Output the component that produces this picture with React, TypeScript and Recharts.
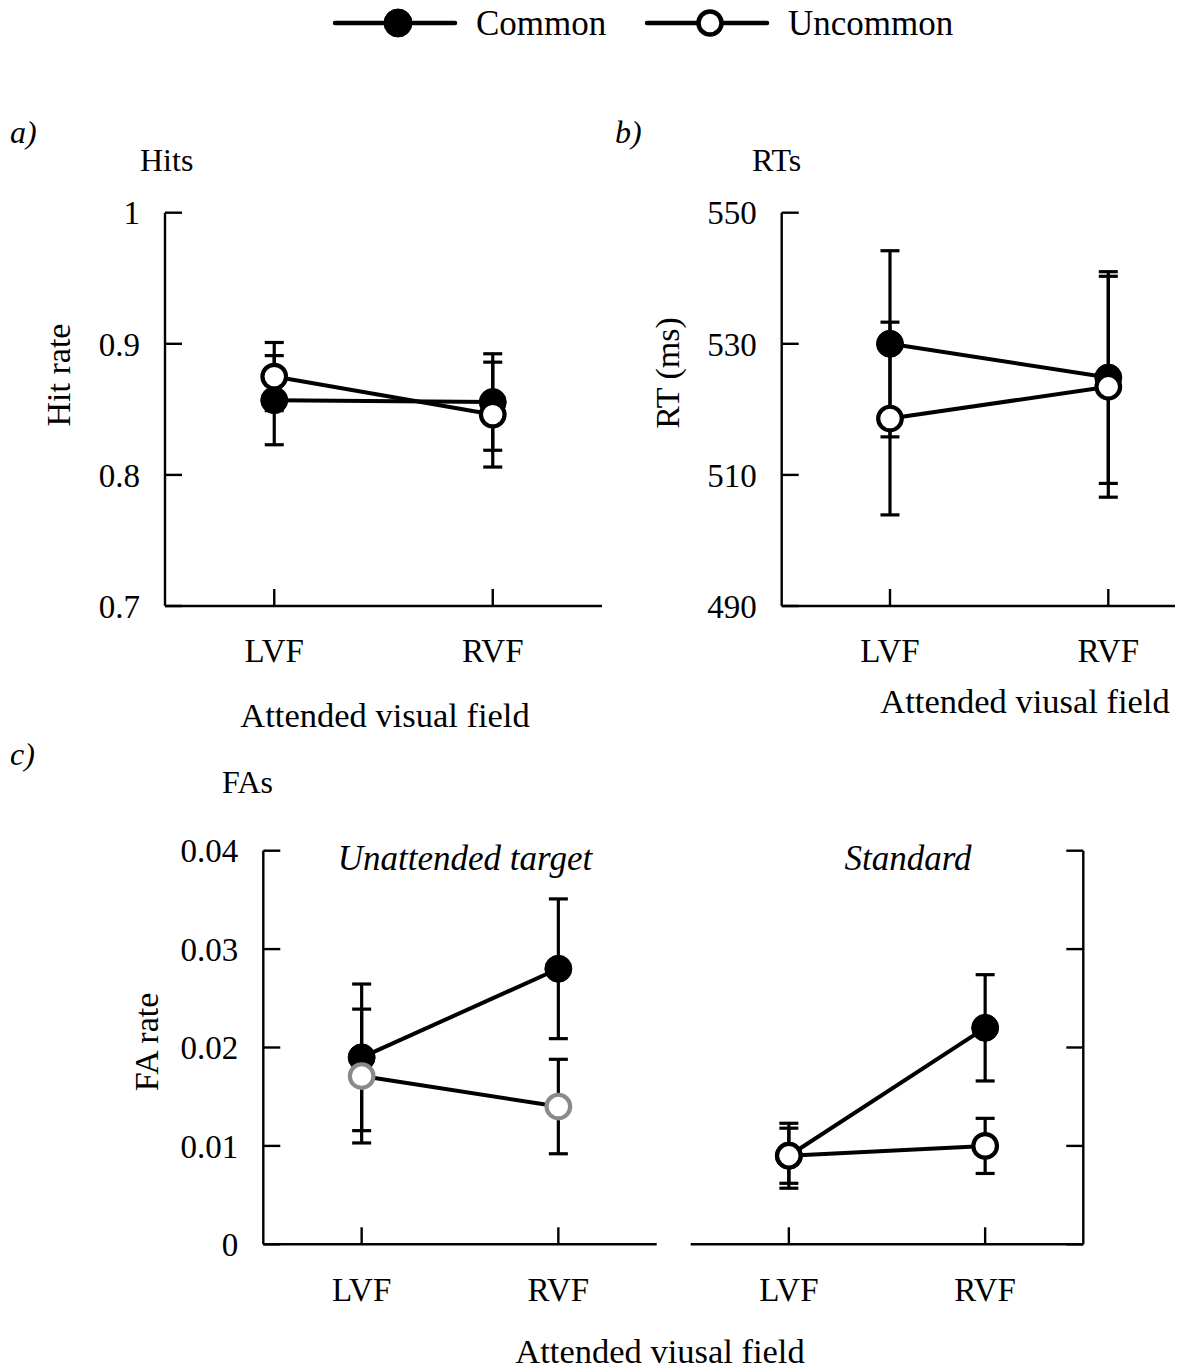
import React from 'react';
import { LineChart, Line, XAxis, YAxis, ErrorBar, Legend } from 'recharts';

// ---------- data ----------
const fields = ['LVF', 'RVF'];
const seriesNames = ['Common', 'Uncommon'];

const hitCommon = [0.857, 0.8556];
const hitCommonErr = [0.034, 0.0368];
const hitUncommon = [0.875, 0.846];
const hitUncommonErr = [0.026, 0.04];
const hitTicks = [0.7, 0.8, 0.9, 1];

const rtCommon = [530.0, 524.85];
const rtCommonErr = [14.2, 16.15];
const rtUncommon = [518.6, 523.45];
const rtUncommonErr = [14.7, 16.85];
const rtTicks = [490, 510, 530, 550];

const faTargetCommon = [0.019, 0.028];
const faTargetCommonErr = [0.00745, 0.0071];
const faTargetUncommon = [0.0171, 0.014];
const faTargetUncommonErr = [0.0068, 0.0048];

const faStdCommon = [0.009, 0.022];
const faStdCommonErr = [0.0033, 0.0054];
const faStdUncommon = [0.009, 0.01];
const faStdUncommonErr = [0.0028, 0.0028];
const faTicks = [0, 0.01, 0.02, 0.03, 0.04];

const fieldPositions = [1, 2];

const build = (c: number[], ce: number[], u: number[], ue: number[]) =>
  fields.map((f, i) => ({
    pos: fieldPositions[i],
    field: f,
    common: c[i],
    commonErr: ce[i],
    uncommon: u[i],
    uncommonErr: ue[i],
  }));

const hitData = build(hitCommon, hitCommonErr, hitUncommon, hitUncommonErr);
const rtData = build(rtCommon, rtCommonErr, rtUncommon, rtUncommonErr);
const faTargetData = build(faTargetCommon, faTargetCommonErr, faTargetUncommon, faTargetUncommonErr);
const faStdData = build(faStdCommon, faStdCommonErr, faStdUncommon, faStdUncommonErr);

// ---------- styles ----------
const FONT = '"Liberation Serif", "Times New Roman", serif';
const tickStyle = { fill: '#000', fontSize: 33, fontFamily: FONT };
const AXIS_W = 2.4;
const LINE_W = 4;
const ERR_W = 3.2;
const CAP = 9.5;

const LegendContent = (props: any) => {
  const payload = props.payload || [];
  const lineX = [335, 647];
  return (
    <svg width={1181} height={50} style={{ display: 'block' }}>
      {payload.map((it: any, i: number) => {
        const x0 = lineX[i] ?? 335 + i * 312;
        const filled = i === 0;
        return (
          <g key={i}>
            <line x1={x0} x2={x0 + 120} y1={23} y2={23} stroke="#000" strokeWidth={4.5} strokeLinecap="round" />
            <circle
              cx={x0 + 63}
              cy={23}
              r={filled ? 14 : 11.5}
              fill={filled ? '#000' : '#fff'}
              stroke="#000"
              strokeWidth={filled ? 1 : 4.5}
            />
            <text x={x0 + 141} y={35} fontSize={35} fontFamily={FONT} fill="#000">
              {it.value}
            </text>
          </g>
        );
      })}
    </svg>
  );
};

type PanelProps = {
  data: any[];
  left: number;
  top: number;
  width: number;
  height: number;
  margin: { top: number; right: number; bottom: number; left: number };
  xHeight: number;
  xDomain: [number, number];
  yDomain: [number, number];
  yTicks: number[];
  yWidth: number;
  yRight?: boolean;
  uncommonStroke?: string;
  legend?: boolean;
};

function Panel(p: PanelProps) {
  return (
    <div style={{ position: 'absolute', left: p.left, top: p.top, width: p.width, height: p.height }}>
      <LineChart width={p.width} height={p.height} data={p.data} margin={p.margin}>
        <XAxis
          dataKey="pos"
          type="number"
          domain={p.xDomain}
          ticks={fieldPositions}
          tickFormatter={(v: number) => fields[v - 1]}
          allowDataOverflow
          interval={0}
          height={p.xHeight}
          tickSize={-17}
          tickMargin={50}
          axisLine={{ stroke: '#000', strokeWidth: AXIS_W }}
          tickLine={{ stroke: '#000', strokeWidth: AXIS_W }}
          tick={tickStyle}
        />
        {p.yRight ? (
          <YAxis
            orientation="right"
            type="number"
            domain={p.yDomain}
            ticks={p.yTicks}
            allowDataOverflow
            width={p.yWidth}
            tickSize={-17}
            tickMargin={42}
            tickFormatter={() => ''}
            axisLine={{ stroke: '#000', strokeWidth: AXIS_W }}
            tickLine={{ stroke: '#000', strokeWidth: AXIS_W }}
            tick={tickStyle}
          />
        ) : (
          <YAxis
            type="number"
            domain={p.yDomain}
            ticks={p.yTicks}
            allowDataOverflow
            width={p.yWidth}
            tickSize={-17}
            tickMargin={42}
            axisLine={{ stroke: '#000', strokeWidth: AXIS_W }}
            tickLine={{ stroke: '#000', strokeWidth: AXIS_W }}
            tick={tickStyle}
          />
        )}
        <Line
          name={seriesNames[0]}
          dataKey="common"
          stroke="#000"
          strokeWidth={LINE_W}
          isAnimationActive={false}
          dot={{ r: 13.5, fill: '#000', stroke: '#000', strokeWidth: 1 }}
          activeDot={false}
        >
          <ErrorBar dataKey="commonErr" direction="y" width={CAP} stroke="#000" strokeWidth={ERR_W} isAnimationActive={false} />
        </Line>
        <Line
          name={seriesNames[1]}
          dataKey="uncommon"
          stroke="#000"
          strokeWidth={LINE_W}
          isAnimationActive={false}
          dot={{ r: 11.8, fill: '#fff', stroke: p.uncommonStroke || '#000', strokeWidth: 4.2 }}
          activeDot={false}
        >
          <ErrorBar dataKey="uncommonErr" direction="y" width={CAP} stroke="#000" strokeWidth={ERR_W} isAnimationActive={false} />
        </Line>
        {p.legend ? (
          <Legend
            layout="horizontal"
            align="center"
            verticalAlign="middle"
            content={<LegendContent />}
            wrapperStyle={{ position: 'absolute', left: -p.left, top: -p.top, width: 1181, height: 50 }}
          />
        ) : null}
      </LineChart>
    </div>
  );
}

const T = (props: any) => <text fontFamily={FONT} fill="#000" {...props} />;

export default function App() {
  return (
    <div style={{ position: 'absolute', left: 0, top: 0, width: 1181, height: 1372, background: '#fff', overflow: 'hidden' }}>
      <Panel
        data={hitData}
        left={0}
        top={190}
        width={620}
        height={500}
        margin={{ top: 22.7, right: 18, bottom: 0, left: 0 }}
        xHeight={84}
        xDomain={[0.5, 2.5]}
        yDomain={[0.7, 1]}
        yTicks={hitTicks}
        yWidth={165}
        legend
      />
      <Panel
        data={rtData}
        left={620}
        top={190}
        width={561}
        height={500}
        margin={{ top: 22.7, right: 6, bottom: 0, left: 0 }}
        xHeight={84}
        xDomain={[0.504, 2.3055]}
        yDomain={[490, 550]}
        yTicks={rtTicks}
        yWidth={161.7}
      />
      <Panel
        data={faTargetData}
        left={0}
        top={830}
        width={670}
        height={480}
        margin={{ top: 20.7, right: 13.3, bottom: 0, left: 0 }}
        xHeight={65.7}
        xDomain={[0.5, 2.5]}
        yDomain={[0, 0.04]}
        yTicks={faTicks}
        yWidth={263.3}
        uncommonStroke="#8a8a8a"
      />
      <Panel
        data={faStdData}
        left={670}
        top={830}
        width={511}
        height={480}
        margin={{ top: 20.7, right: 87.7, bottom: 0, left: 20.7 }}
        xHeight={65.7}
        xDomain={[0.5, 2.5]}
        yDomain={[0, 0.04]}
        yTicks={faTicks}
        yWidth={10}
        yRight
      />
      <svg width={1181} height={1372} style={{ position: 'absolute', left: 0, top: 0, pointerEvents: 'none' }}>
        <T x={10} y={143} fontSize={32} fontStyle="italic">a)</T>
        <T x={140} y={171} fontSize={32}>Hits</T>
        <T x={615} y={143} fontSize={32} fontStyle="italic">b)</T>
        <T x={752} y={171} fontSize={32}>RTs</T>
        <T transform="translate(70,375) rotate(-90)" textAnchor="middle" fontSize={34}>Hit rate</T>
        <T transform="translate(679,373) rotate(-90)" textAnchor="middle" fontSize={34}>RT (ms)</T>
        <T x={385} y={727} textAnchor="middle" fontSize={34.5}>Attended visual field</T>
        <T x={1025} y={713} textAnchor="middle" fontSize={34.5}>Attended viusal field</T>
        <T x={10} y={765} fontSize={32} fontStyle="italic">c)</T>
        <T x={222} y={793} fontSize={32}>FAs</T>
        <T transform="translate(158,1042) rotate(-90)" textAnchor="middle" fontSize={34}>FA rate</T>
        <T x={465} y={870} textAnchor="middle" fontSize={35} fontStyle="italic">Unattended target</T>
        <T x={908} y={870} textAnchor="middle" fontSize={35} fontStyle="italic">Standard</T>
        <T x={660} y={1363} textAnchor="middle" fontSize={34.5}>Attended viusal field</T>
      </svg>
    </div>
  );
}
